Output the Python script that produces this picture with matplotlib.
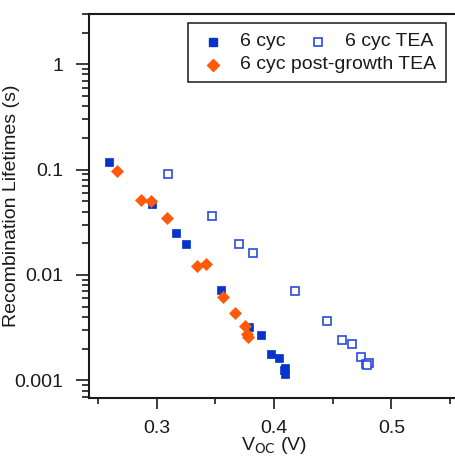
import matplotlib
matplotlib.use("Agg")
import matplotlib.pyplot as plt
from matplotlib.ticker import MultipleLocator, LogLocator, FuncFormatter, NullFormatter
from matplotlib.patches import Rectangle
from matplotlib.lines import Line2D

plt.rcParams['font.family'] = ['Liberation Sans', 'DejaVu Sans']

# ---- data ----
voc_6cyc = [0.2594, 0.2960, 0.3162, 0.3250, 0.3545, 0.3783, 0.3888, 0.3973, 0.4045, 0.4092, 0.4088, 0.4090]
tau_6cyc = [0.118, 0.0473, 0.0249, 0.0197, 0.00716, 0.0032, 0.00267, 0.00177, 0.00164, 0.00132, 0.00125, 0.00116]

voc_6cyc_tea = [0.3096, 0.3471, 0.3704, 0.3818, 0.4175, 0.4448, 0.4581, 0.4666, 0.4743, 0.4785, 0.4805, 0.4795]
tau_6cyc_tea = [0.0906, 0.0361, 0.0197, 0.0163, 0.00711, 0.00363, 0.00239, 0.00221, 0.00166, 0.00143, 0.00146, 0.00141]

voc_post = [0.2659, 0.2869, 0.2951, 0.3085, 0.3346, 0.3423, 0.3567, 0.3670, 0.3752, 0.3770, 0.3778]
tau_post = [0.096, 0.0516, 0.0509, 0.0346, 0.0121, 0.0128, 0.00618, 0.00435, 0.00325, 0.00275, 0.00258]

labels = ["6 cyc", "6 cyc TEA", "6 cyc post-growth TEA"]

c_fill = "#0434CC"
c_open = "#2A4BDB"
c_orange = "#FF5A0A"
txt = "#1a1a1a"
FS = 14

W, H = 456, 457
fig = plt.figure(figsize=(W / 100, H / 100), dpi=100)
ax = fig.add_axes([89 / W, 59 / H, 381 / W, 384 / H])

ax.plot(voc_6cyc, tau_6cyc, ls='none', marker='s', ms=5.2, mfc=c_fill, mec=c_fill, mew=0.5, zorder=3)
ax.plot(voc_6cyc_tea, tau_6cyc_tea, ls='none', marker='s', ms=5.2, mfc='white', mec=c_open, mew=1.2, zorder=3)
ax.plot(voc_post, tau_post, ls='none', marker='D', ms=6.4, mfc=c_orange, mec=c_orange, mew=0.5, zorder=4)

ax.set_yscale('log')
ax.set_xlim(0.24233, 0.5669)
ax.set_ylim(0.00068, 3.0)

ax.xaxis.set_major_locator(MultipleLocator(0.1))
ax.xaxis.set_minor_locator(MultipleLocator(0.05))
ax.xaxis.set_major_formatter(FuncFormatter(lambda v, p: f"{v:.1f}"))
ax.yaxis.set_major_locator(LogLocator(base=10, numticks=10))
ax.yaxis.set_minor_locator(LogLocator(base=10, subs=range(2, 10), numticks=20))
ax.yaxis.set_major_formatter(FuncFormatter(lambda v, p: f"{v:g}"))
ax.yaxis.set_minor_formatter(NullFormatter())

for s in ax.spines.values():
    s.set_linewidth(1.5)
    s.set_color(txt)

ax.tick_params(axis='y', which='major', direction='out', length=9.4, width=1.2, pad=9, labelsize=FS, colors=txt)
ax.tick_params(axis='y', which='minor', direction='out', length=5, width=1.2, colors=txt)
ax.tick_params(axis='x', which='major', direction='out', length=8, width=1.2, pad=8, labelsize=FS, colors=txt)
ax.tick_params(axis='x', which='minor', direction='out', length=4, width=1.2, colors=txt)
ax.tick_params(top=False, right=False, which='both')

ax.set_ylabel("Recombination Lifetimes (s)", fontsize=FS, color=txt)
ax.yaxis.set_label_coords((20 - 89) / 381, 0.5)
ax.set_xlabel(r"V$_{\mathrm{OC}}$ (V)", fontsize=FS, color=txt)
ax.xaxis.set_label_coords((274 - 89) / 381, -(446 - 398) / 384)
ax.xaxis.label.set_va('center')

# ---- legend (manual layout, pixel positions) ----
def fx(px):
    return px / W

def fy(py):
    return 1 - py / H

fig.add_artist(Rectangle((fx(188), fy(82)), fx(446) - fx(188), fy(23) - fy(82),
                         transform=fig.transFigure, fill=True, facecolor='white',
                         edgecolor=txt, linewidth=1.1, zorder=10))
fig.add_artist(Line2D([fx(213)], [fy(41.5)], transform=fig.transFigure, ls='none', marker='s',
                      ms=5.8, mfc=c_fill, mec=c_fill, zorder=11))
fig.add_artist(Line2D([fx(318)], [fy(41.5)], transform=fig.transFigure, ls='none', marker='s',
                      ms=5.2, mfc='white', mec=c_open, mew=1.2, zorder=11))
fig.add_artist(Line2D([fx(213)], [fy(65)], transform=fig.transFigure, ls='none', marker='D',
                      ms=5.8, mfc=c_orange, mec=c_orange, zorder=11))
fig.text(fx(240.5), fy(41.5), labels[0], fontsize=FS, color=txt, va='center', ha='left', zorder=12)
fig.text(fx(345), fy(41.5), labels[1], fontsize=FS, color=txt, va='center', ha='left', zorder=12)
fig.text(fx(240.5), fy(64.5), labels[2], fontsize=FS, color=txt, va='center', ha='left', zorder=12)

fig.savefig("out.png", dpi=100)
